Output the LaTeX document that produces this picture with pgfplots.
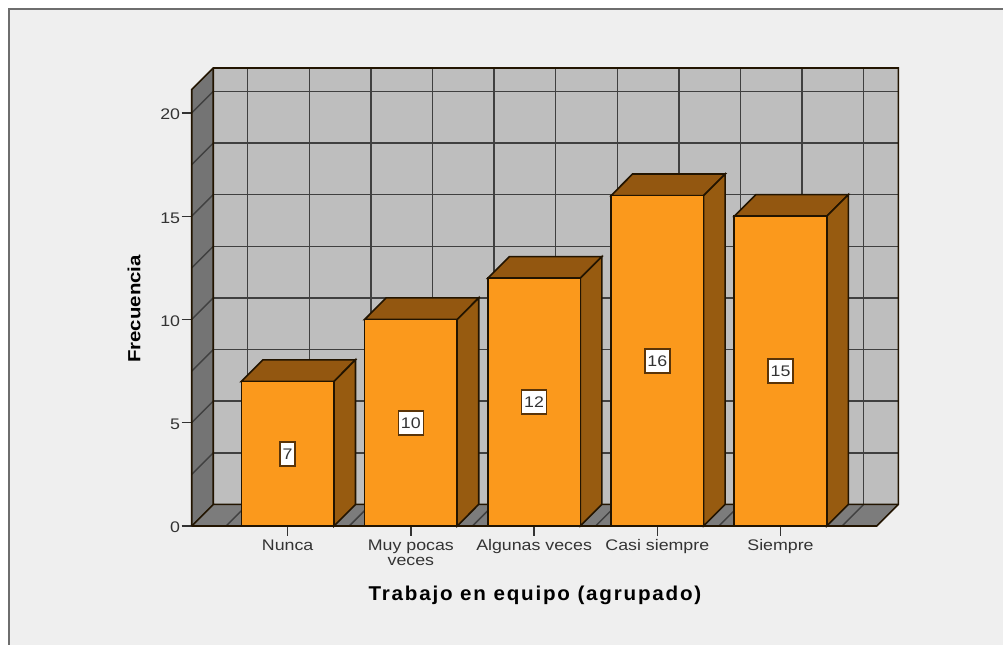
\documentclass[border=0pt]{standalone}
\usepackage{fontspec}
\setmainfont[FakeStretch=1.16]{Liberation Sans}
\newfontfamily\titlefont[FakeStretch=1.03,LetterSpace=9]{Liberation Sans}
\usepackage{pgfplots}
\pgfplotsset{compat=1.18}

\definecolor{panel}{HTML}{EFEFEF}
\definecolor{framecol}{HTML}{6E6E6E}
\definecolor{wallback}{HTML}{BEBEBE}
\definecolor{wallside}{HTML}{747474}
\definecolor{wallfloor}{HTML}{7C7C7C}
\definecolor{gridcol}{HTML}{404040}
\definecolor{edgecol}{HTML}{221400}
\definecolor{barfront}{HTML}{FB991C}
\definecolor{bartop}{HTML}{935710}
\definecolor{barside}{HTML}{975B10}
\definecolor{boxedge}{HTML}{5A3408}
\definecolor{textcol}{HTML}{333333}

\begin{document}
\begin{tikzpicture}[x=0.75pt,y=0.75pt]
\useasboundingbox (-191.7,-119) rectangle (811.3,526);
% panel behind the chart, 1 unit = 1 reference pixel
\fill[white] (-191.7,-119) rectangle (811.3,526);
\fill[panel] (-182.7,-119) rectangle (811.3,517);
\draw[framecol,line width=1.1pt] (-182.7,-119) -- (-182.7,517) -- (811.3,517);

\begin{axis}[
    scale only axis,
    width=529.95pt,
    height=343.5pt,
    xmin=-0.779, xmax=4.956,
    ymin=0, ymax=22.18,
    clip=false,
    unbounded coords=jump,
    axis line style={draw=none},
    tick pos=left,
    tick align=outside,
    major tick length=7.5pt,
    tick style={draw=textcol,line width=1pt},
    xtick={0,1,2,3,4},
    xticklabels={Nunca,{Muy pocas\\veces},Algunas veces,Casi siempre,Siempre},
    ytick={0,5,10,15,20},
    /pgf/number format/assume math mode=true,
    xticklabel style={font=\fontsize{11.5pt}{11.25pt}\selectfont,text=textcol,align=center,inner sep=1.5pt,yshift=-1.2pt},
    yticklabel style={font=\fontsize{11.5pt}{13pt}\selectfont,text=textcol,inner sep=1pt,yshift=-1.2pt},
    xlabel={Trabajo en equipo (agrupado)},
    ylabel={Frecuencia},
    xlabel style={at={(axis description cs:0.4858,-0.1515)},anchor=center,font=\titlefont\fontsize{15pt}{17pt}\selectfont\bfseries},
    ylabel style={at={(axis description cs:-0.0817,0.474)},anchor=center,font=\fontsize{13.2pt}{15pt}\selectfont\bfseries},
]

% back wall, side wall, floor
\addplot[fill=wallback,draw=none] coordinates {(-0.604,1.046)(4.956,1.046)(4.956,22.18)(-0.604,22.18)} -- cycle;
\addplot[fill=wallside,draw=none] coordinates {(-0.779,0)(-0.604,1.046)(-0.604,22.18)(-0.779,21.134)} -- cycle;
\addplot[fill=wallfloor,draw=none] coordinates {(-0.779,0)(4.781,0)(4.956,1.046)(-0.604,1.046)} -- cycle;

% grid on the back wall
\addplot[gridcol,line width=1.1pt] coordinates {
    (-0.604,3.546)(4.956,3.546)(0,nan)
    (-0.604,6.046)(4.956,6.046)(0,nan)
    (-0.604,8.546)(4.956,8.546)(0,nan)
    (-0.604,11.046)(4.956,11.046)(0,nan)
    (-0.604,13.546)(4.956,13.546)(0,nan)
    (-0.604,16.046)(4.956,16.046)(0,nan)
    (-0.604,18.546)(4.956,18.546)(0,nan)
    (-0.604,21.046)(4.956,21.046)
};
\addplot[gridcol,line width=1.1pt] coordinates {
    (-0.325,1.046)(-0.325,22.18)(0,nan)
    (0.175,1.046)(0.175,22.18)(0,nan)
    (0.675,1.046)(0.675,22.18)(0,nan)
    (1.175,1.046)(1.175,22.18)(0,nan)
    (1.675,1.046)(1.675,22.18)(0,nan)
    (2.175,1.046)(2.175,22.18)(0,nan)
    (2.675,1.046)(2.675,22.18)(0,nan)
    (3.175,1.046)(3.175,22.18)(0,nan)
    (3.675,1.046)(3.675,22.18)(0,nan)
    (4.175,1.046)(4.175,22.18)(0,nan)
    (4.675,1.046)(4.675,22.18)
};
% same grid carried over the side wall and the floor
\addplot[gridcol,line width=1.1pt] coordinates {
    (-0.779,2.5)(-0.604,3.546)(0,nan)
    (-0.779,5)(-0.604,6.046)(0,nan)
    (-0.779,7.5)(-0.604,8.546)(0,nan)
    (-0.779,10)(-0.604,11.046)(0,nan)
    (-0.779,12.5)(-0.604,13.546)(0,nan)
    (-0.779,15)(-0.604,16.046)(0,nan)
    (-0.779,17.5)(-0.604,18.546)(0,nan)
    (-0.779,20)(-0.604,21.046)
};
\addplot[gridcol,line width=1.1pt] coordinates {
    (-0.5,0)(-0.325,1.046)(0,nan)
    (0,0)(0.175,1.046)(0,nan)
    (0.5,0)(0.675,1.046)(0,nan)
    (1,0)(1.175,1.046)(0,nan)
    (1.5,0)(1.675,1.046)(0,nan)
    (2,0)(2.175,1.046)(0,nan)
    (2.5,0)(2.675,1.046)(0,nan)
    (3,0)(3.175,1.046)(0,nan)
    (3.5,0)(3.675,1.046)(0,nan)
    (4,0)(4.175,1.046)(0,nan)
    (4.5,0)(4.675,1.046)
};
% outlines of the box
\addplot[edgecol,line width=1.2pt] coordinates {(-0.779,0)(4.781,0)(4.956,1.046)(4.956,22.18)(-0.604,22.18)(-0.779,21.134)(-0.779,0)};
\addplot[edgecol,line width=1.2pt] coordinates {(-0.779,0)(-0.604,1.046)(4.956,1.046)(0,nan)(-0.604,1.046)(-0.604,22.18)};

% bar tops
\addplot[fill=bartop,draw=edgecol,line width=1.2pt] coordinates {(-0.3755,7)(0.3755,7)(0.5505,8.046)(-0.2005,8.046)} -- cycle;
\addplot[fill=bartop,draw=edgecol,line width=1.2pt] coordinates {(0.6245,10)(1.3755,10)(1.5505,11.046)(0.7995,11.046)} -- cycle;
\addplot[fill=bartop,draw=edgecol,line width=1.2pt] coordinates {(1.6245,12)(2.3755,12)(2.5505,13.046)(1.7995,13.046)} -- cycle;
\addplot[fill=bartop,draw=edgecol,line width=1.2pt] coordinates {(2.6245,16)(3.3755,16)(3.5505,17.046)(2.7995,17.046)} -- cycle;
\addplot[fill=bartop,draw=edgecol,line width=1.2pt] coordinates {(3.6245,15)(4.3755,15)(4.5505,16.046)(3.7995,16.046)} -- cycle;
% bar sides
\addplot[fill=barside,draw=edgecol,line width=1.2pt] coordinates {(0.3755,0)(0.5505,1.046)(0.5505,8.046)(0.3755,7)} -- cycle;
\addplot[fill=barside,draw=edgecol,line width=1.2pt] coordinates {(1.3755,0)(1.5505,1.046)(1.5505,11.046)(1.3755,10)} -- cycle;
\addplot[fill=barside,draw=edgecol,line width=1.2pt] coordinates {(2.3755,0)(2.5505,1.046)(2.5505,13.046)(2.3755,12)} -- cycle;
\addplot[fill=barside,draw=edgecol,line width=1.2pt] coordinates {(3.3755,0)(3.5505,1.046)(3.5505,17.046)(3.3755,16)} -- cycle;
\addplot[fill=barside,draw=edgecol,line width=1.2pt] coordinates {(4.3755,0)(4.5505,1.046)(4.5505,16.046)(4.3755,15)} -- cycle;
% bar fronts
\addplot[ybar,bar width=69.4pt,fill=barfront,draw=edgecol,line width=1.2pt] coordinates {(0,7)(1,10)(2,12)(3,16)(4,15)};

% value boxes at mid height
\addplot[draw=none,mark=none,
    nodes near coords,
    point meta=explicit symbolic,
    nodes near coords style={anchor=center,draw=boxedge,line width=1.2pt,fill=white,text=textcol,
        font=\fontsize{11.5pt}{13pt}\selectfont,inner xsep=2pt,minimum height=18pt,text height=8.4pt,text depth=0pt},
] table[meta=label] {
x y label
0 3.5 7
1 5 10
2 6 12
3 8 16
4 7.5 15
};
\end{axis}
\end{tikzpicture}
\end{document}
